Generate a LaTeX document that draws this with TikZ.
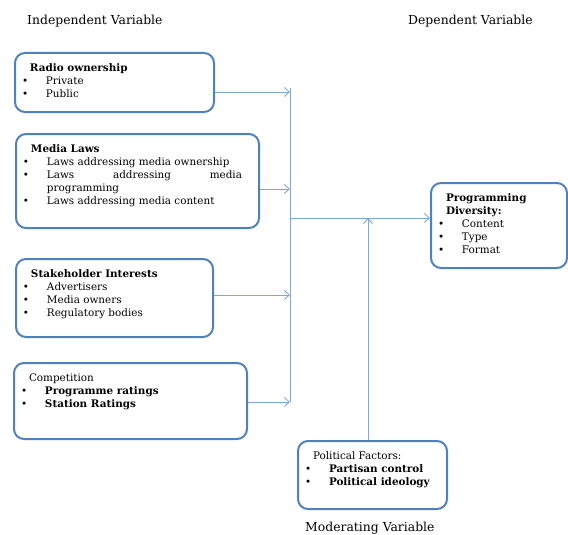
\documentclass[tikz,border=0pt]{standalone}
\usepackage{fontspec}
\setmainfont{DejaVu Serif}
\usetikzlibrary{arrows.meta, positioning}
\definecolor{boxblue}{HTML}{4F81BD}
\definecolor{lineblue}{HTML}{7EA6DA}

\newcommand{\bitem}[1]{\\\hspace*{7pt}\makebox[24pt][l]{\textbullet}#1}
\newcommand{\bhead}[1]{\rule{0pt}{18pt}\hspace*{15pt}#1}
\newcommand{\boxtext}[3]{\parbox[c][#2][t]{#1}{\raggedright #3}}

\begin{document}
\begin{tikzpicture}[x=1pt, y=-1pt, >={Straight Barb[length=5pt,width=9pt]},
  varbox/.style={draw=boxblue, line width=2pt, rounded corners=10pt, inner sep=0pt, anchor=north west, font=\fontsize{10.4}{13}\selectfont},
  conn/.style={draw=lineblue, line width=0.9pt},
  title/.style={font=\fontsize{12.4}{14}\selectfont, inner sep=0pt}]

\useasboundingbox (0,0) rectangle (568,535);

% variable headings
\node[title, anchor=west] (indep) at (27,21) {Independent Variable};
\node[title, anchor=west] (dep) at (408,21) {Dependent Variable};
\node[title, anchor=west] (moder) at (305,528) {Moderating Variable};

% independent variables
\node[varbox] (radio) at (14,52) {\boxtext{199pt}{59pt}{\bhead{\textbf{Radio ownership}}\bitem{Private}\bitem{Public}}};
\node[varbox] (laws) at (15,133) {\boxtext{243pt}{94pt}{\bhead{\textbf{Media Laws}}\bitem{Laws addressing media ownership}\bitem{\makebox[195pt][s]{Laws addressing media}}\\\hspace*{31pt}programming\bitem{Laws addressing media content}}};
\node[varbox] (stake) at (15,258) {\boxtext{197pt}{78pt}{\bhead{\textbf{Stakeholder Interests}}\bitem{Advertisers}\bitem{Media owners}\bitem{Regulatory bodies}}};
\node[varbox] (comp) at (13,362) {\boxtext{233pt}{76pt}{\bhead{Competition}\bitem{\textbf{Programme ratings}}\bitem{\textbf{Station Ratings}}}};

% dependent and moderating variables
\node[varbox] (prog) at (430,182) {\boxtext{136pt}{85pt}{\bhead{\textbf{Programming}}\\\hspace*{15pt}\textbf{Diversity:}\bitem{Content}\bitem{Type}\bitem{Format}}};
\node[varbox] (pol) at (297,440) {\boxtext{149pt}{68pt}{\bhead{Political Factors:}\bitem{\textbf{Partisan control}}\bitem{\textbf{Political ideology}}}};

% collecting line
\coordinate (bus-top) at (290,88);
\coordinate (bus-1) at (290,92);
\coordinate (bus-2) at (290,189);
\coordinate (bus-3) at (290,295);
\coordinate (bus-4) at (290,402);
\coordinate (bus-out) at (290,218);
\coordinate (pol-in) at (368,218);

\draw[conn] (bus-top) -- (bus-4);
\draw[conn, ->] (radio.east |- bus-1) -- (bus-1);
\draw[conn, ->] (laws.east |- bus-2) -- (bus-2);
\draw[conn, ->] (stake.east |- bus-3) -- (bus-3);
\draw[conn, ->] (comp.east |- bus-4) -- (bus-4);
\draw[conn, ->] (bus-out) -- (prog.west |- bus-out);
\draw[conn, ->] (pol.north -| pol-in) -- (pol-in);

\end{tikzpicture}
\end{document}
